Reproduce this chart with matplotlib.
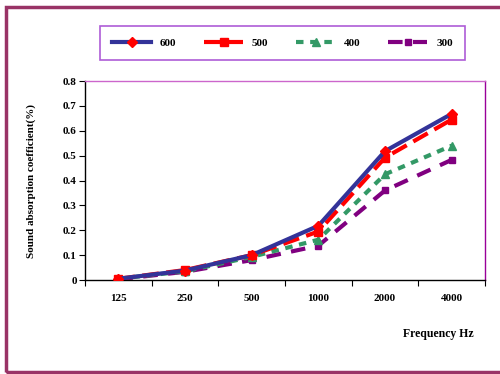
import matplotlib.pyplot as plt
from matplotlib.patches import Rectangle

# Sound absorption coefficient vs frequency for four sample thicknesses
freqs = ['125', '250', '500', '1000', '2000', '4000']
s600 = [0.005, 0.038, 0.100, 0.218, 0.518, 0.668]
s500 = [0.005, 0.040, 0.100, 0.195, 0.492, 0.645]
s400 = [0.005, 0.035, 0.093, 0.162, 0.425, 0.540]
s300 = [0.003, 0.033, 0.080, 0.138, 0.360, 0.483]
yticks = [0, 0.1, 0.2, 0.3, 0.4, 0.5, 0.6, 0.7, 0.8]

plt.rcParams['font.family'] = ['Liberation Serif', 'DejaVu Serif']
plt.rcParams['font.weight'] = 'bold'

fig = plt.figure(figsize=(5, 3.74), dpi=100)
ax = fig.add_axes([0.17, 0.2513, 0.80, 0.5321])

x = range(len(freqs))
ax.plot(x, s300, color='#800080', lw=3, dashes=(3.5, 2.5), marker='s',
        ms=5, mfc='#800080', mec='#800080', label='300', zorder=2)
ax.plot(x, s400, color='#339966', lw=3, dashes=(1.8, 1.6), marker='^',
        ms=6, mfc='#339966', mec='#339966', label='400', zorder=3)
ax.plot(x, s500, color='#FF0000', lw=3, dashes=(4, 1.8), marker='s',
        ms=5.5, mfc='#FF0000', mec='#FF0000', label='500', zorder=4)
ax.plot(x, s600, color='#333399', lw=3, marker='D',
        ms=5, mfc='#FF0000', mec='#FF0000', label='600', zorder=5)

ax.set_xlim(-0.5, len(freqs) - 0.5)
ax.set_ylim(0, 0.8)
ax.set_yticks(yticks)
ax.set_yticklabels([f'{v:g}' for v in yticks], fontsize=8, fontweight='bold')
ax.set_xticks([i - 0.5 for i in range(len(freqs) + 1)])
ax.set_xticklabels([])
for i, f in enumerate(freqs):
    ax.text(i, -0.073, f, ha='center', va='center', fontsize=8,
            fontweight='bold', transform=ax.transData)
ax.tick_params(axis='both', direction='out', length=4, width=0.8, pad=2)

ax.spines['left'].set_color('black')
ax.spines['bottom'].set_color('black')
ax.spines['top'].set_color('#CC66CC')
ax.spines['right'].set_color('#990099')
for s in ax.spines.values():
    s.set_linewidth(1)

ax.set_ylabel('Sound absorption coefficient(%)', fontsize=8,
              fontweight='bold', labelpad=19)
fig.text(0.876, 0.107, 'Frequency Hz', ha='center', va='center',
         fontsize=8.5, fontweight='bold')

# Legend in a single row across the top
handles, labels = ax.get_legend_handles_labels()
leg = fig.legend(handles[::-1], labels[::-1], ncol=4,
                 loc='center', bbox_to_anchor=(0.565, 0.884),
                 frameon=True, fancybox=False, fontsize=8,
                 handlelength=3.5, columnspacing=2.5, handletextpad=0.8,
                 borderpad=1.1)
leg.get_frame().set_edgecolor('#9933CC')
leg.get_frame().set_linewidth(1.2)
for t in leg.get_texts():
    t.set_fontweight('bold')

# Outer chart border
fig.patches.append(Rectangle((0.011, 0.005), 1.2, 0.975,
                             transform=fig.transFigure, fill=False,
                             edgecolor='#993366', lw=2.5))

fig.savefig('out.png', dpi=100)
